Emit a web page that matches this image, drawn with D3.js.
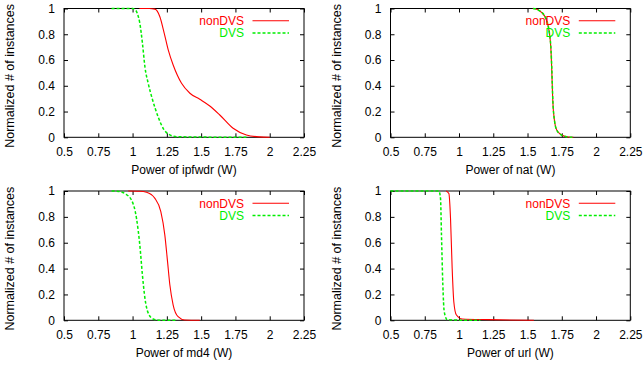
<!DOCTYPE html>
<html>
<head>
<meta charset="utf-8">
<script src="https://cdn.jsdelivr.net/npm/d3@7"></script>
<style>
  html, body { margin: 0; padding: 0; background: #fff; }
  svg { display: block; }
  text { font-family: "Liberation Sans", Arial, Helvetica, sans-serif; }
</style>
</head>
<body>
<svg id="chart" width="644" height="369"></svg>
<script>
// ---- data ----
const benchmarks = ["ipfwdr", "nat", "md4", "url"];
const seriesNames = ["nonDVS", "DVS"];
const xTickValues = [0.5, 0.75, 1, 1.25, 1.5, 1.75, 2, 2.25];
const xTickLabels = ["0.5", "0.75", "1", "1.25", "1.5", "1.75", "2", "2.25"];
const yTickValues = [0, 0.2, 0.4, 0.6, 0.8, 1];
const yTickLabels = ["0", "0.2", "0.4", "0.6", "0.8", "1"];

const ipfwdrNonDVS = [[1.05,1],[1.12,1],[1.163,0.995],[1.199,0.936],[1.231,0.807],[1.26,0.678],[1.296,0.561],[1.357,0.419],[1.418,0.342],[1.49,0.295],[1.563,0.243],[1.636,0.173],[1.733,0.07],[1.83,0.018],[1.927,0.003],[2.0,0]];
const ipfwdrDVS = [[0.847,1],[1.0,1],[1.02,0.99],[1.034,0.963],[1.053,0.885],[1.072,0.73],[1.09,0.548],[1.114,0.419],[1.146,0.29],[1.186,0.16],[1.223,0.07],[1.26,0.026],[1.32,0.005],[1.49,0.002],[1.83,0]];
const natNonDVS = [[1.538,1],[1.58,0.988],[1.628,0.936],[1.66,0.807],[1.671,0.678],[1.676,0.548],[1.684,0.29],[1.696,0.134],[1.713,0.057],[1.749,0.018],[1.798,0.002],[1.835,0]];
const natDVS = [[1.54,1],[1.582,0.986],[1.63,0.932],[1.661,0.8],[1.672,0.67],[1.677,0.54],[1.685,0.28],[1.697,0.128],[1.715,0.052],[1.752,0.015],[1.8,0.002],[1.83,0]];
const md4NonDVS = [[0.968,1],[1.05,0.998],[1.102,0.99],[1.163,0.943],[1.206,0.84],[1.235,0.661],[1.255,0.454],[1.272,0.273],[1.296,0.118],[1.332,0.028],[1.381,0.002],[1.49,0]];
const md4DVS = [[0.847,1],[0.9,0.997],[0.944,0.98],[0.993,0.928],[1.029,0.786],[1.053,0.58],[1.072,0.348],[1.09,0.172],[1.114,0.056],[1.15,0.01],[1.2,0],[1.32,0]];
const urlNonDVS = [[0.906,1],[0.926,0.98],[0.938,0.789],[0.95,0.402],[0.962,0.144],[0.981,0.041],[1.023,0.01],[1.218,0.005],[1.546,0]];
const urlDVS = [[0.5,1],[0.853,1],[0.865,0.943],[0.872,0.661],[0.882,0.273],[0.892,0.067],[0.914,0.005],[0.96,0.002],[1.156,0]];

const panelSeries = {
  ipfwdr: [ipfwdrNonDVS, ipfwdrDVS],
  nat: [natNonDVS, natDVS],
  md4: [md4NonDVS, md4DVS],
  url: [urlNonDVS, urlDVS]
};

// ---- layout ----
const panels = [
  {name: "ipfwdr", left: 64, right: 304, top: 8.5, bottom: 137.3},
  {name: "nat", left: 390.5, right: 630.3, top: 8.5, bottom: 137.3},
  {name: "md4", left: 64, right: 304, top: 191, bottom: 320.3},
  {name: "url", left: 390.5, right: 630.3, top: 191, bottom: 320.3}
];
const colors = ["#ff0000", "#00ee00"];
const svg = d3.select("#chart");
const fontSize = 12;

panels.forEach(p => {
  const g = svg.append("g");
  const x = d3.scaleLinear().domain([0.5, 2.25]).range([p.left, p.right]);
  const y = d3.scaleLinear().domain([0, 1]).range([p.bottom, p.top]);

  const xAxis = d3.axisBottom(x).tickValues(xTickValues)
    .tickFormat((d, i) => xTickLabels[i]).tickSizeInner(-4).tickSizeOuter(0).tickPadding(10);
  const gx = g.append("g").attr("transform", `translate(0,${p.bottom})`).call(xAxis);
  const xTop = d3.axisTop(x).tickValues(xTickValues).tickFormat("").tickSizeInner(-4).tickSizeOuter(0);
  const gxt = g.append("g").attr("transform", `translate(0,${p.top})`).call(xTop);

  const yAxis = d3.axisLeft(y).tickValues(yTickValues)
    .tickFormat((d, i) => yTickLabels[i]).tickSizeInner(-4).tickSizeOuter(0).tickPadding(9);
  const gy = g.append("g").attr("transform", `translate(${p.left},0)`).call(yAxis);
  const yRight = d3.axisRight(y).tickValues(yTickValues).tickFormat("").tickSizeInner(-4).tickSizeOuter(0);
  const gyr = g.append("g").attr("transform", `translate(${p.right},0)`).call(yRight);

  [gx, gxt, gy, gyr].forEach(a => {
    a.select(".domain").remove();
    a.selectAll(".tick line").attr("stroke", "#000").attr("stroke-width", 1);
    a.selectAll(".tick text").attr("font-size", fontSize).attr("fill", "#000")
      .attr("font-family", "'Liberation Sans', Arial, sans-serif");
  });

  g.append("rect").attr("x", p.left).attr("y", p.top)
    .attr("width", p.right - p.left).attr("height", p.bottom - p.top)
    .attr("fill", "none").attr("stroke", "#000").attr("stroke-width", 1);

  g.append("text").attr("x", (p.left + p.right) / 2).attr("y", p.bottom + 37)
    .attr("text-anchor", "middle").attr("font-size", fontSize).attr("fill", "#000")
    .text(`Power of ${p.name} (W)`);
  const cy = (p.top + p.bottom) / 2 + 3;
  g.append("text").attr("transform", `translate(${p.left - 50},${cy}) rotate(-90)`)
    .attr("text-anchor", "middle").attr("font-size", 12.5).attr("fill", "#000")
    .text("Normalized # of instances");

  const line = d3.line().x(d => x(d[0])).y(d => y(d[1])).curve(d3.curveMonotoneX);
  const series = panelSeries[p.name];
  series.forEach((s, i) => {
    g.append("path").datum(s).attr("d", line)
      .attr("fill", "none").attr("stroke", colors[i])
      .attr("stroke-width", i === 0 ? 1.1 : 1.5)
      .attr("stroke-dasharray", i === 0 ? null : "3,2");
  });

  seriesNames.forEach((n, i) => {
    const ly = p.top + 12.3 + i * 12.3;
    g.append("text").attr("x", p.right - 60).attr("y", ly).attr("dy", "0.35em")
      .attr("text-anchor", "end").attr("font-size", fontSize).attr("fill", colors[i]).text(n);
    g.append("line").attr("x1", p.right - 51.5).attr("x2", p.right - 15)
      .attr("y1", ly).attr("y2", ly).attr("stroke", colors[i])
      .attr("stroke-width", i === 0 ? 1.1 : 1.5)
      .attr("stroke-dasharray", i === 0 ? null : "3,2");
  });
});
</script>
</body>
</html>
